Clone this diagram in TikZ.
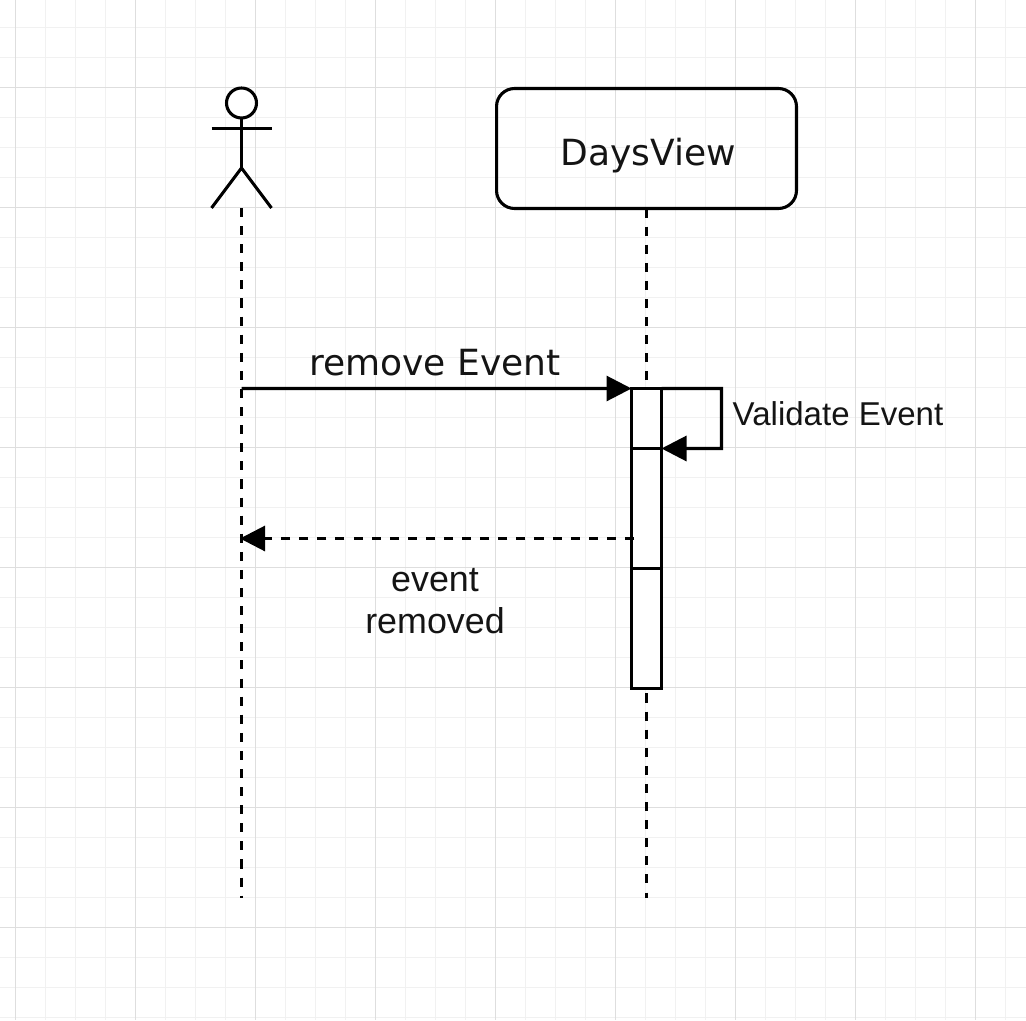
\documentclass[tikz,border=0pt]{standalone}
\usepackage{fontspec}
\usetikzlibrary{arrows.meta,positioning}
\setmainfont{Liberation Sans}
\newfontfamily\labelFont{DejaVu Sans}
\definecolor{colMinor}{RGB}{241, 241, 241}
\definecolor{colMajor}{RGB}{222, 222, 222}
\definecolor{darkText}{RGB}{20, 20, 20}

\begin{document}
\begin{tikzpicture}[x=0.02cm, y=-0.02cm, >={Triangle[length=0.5cm, width=0.5cm]}]

  \useasboundingbox (0, 0) rectangle (1026, 1020);

  % Helper styles for the sequence parts
  \tikzset{
    stroke/.style={black, line width=1.75pt},
    lifeline/.style={stroke, dash pattern=on 5.15pt off 5.15pt},
    activation/.style={stroke, rectangle, fill=white, inner sep=0pt, outer sep=0pt,
      minimum width=0.6cm},
    bigText/.style={font=\labelFont\fontsize{20.5}{24}\selectfont, text=darkText},
    smallText/.style={font=\fontsize{18.8}{23.5}\selectfont, text=darkText, align=center},
    returnText/.style={font=\fontsize{20.4}{23.5}\selectfont, text=darkText, align=center}
  }

  % Background grid: 30 px cells, heavier every 120 px
  \foreach \gx in {15.5, 45.5, ..., 1005.5}
    \draw[colMinor, line width=1.1pt] (\gx, 0) -- (\gx, 1020);
  \foreach \gy in {27.5, 57.5, ..., 1017.5}
    \draw[colMinor, line width=1.1pt] (0, \gy) -- (1026, \gy);
  \foreach \gx in {15.5, 135.5, ..., 975.5}
    \draw[colMajor, line width=1.1pt] (\gx, 0) -- (\gx, 1020);
  \foreach \gy in {87.5, 207.5, ..., 927.5}
    \draw[colMajor, line width=1.1pt] (0, \gy) -- (1026, \gy);

  % Actor figure
  \node[stroke, draw, circle, inner sep=0pt, outer sep=0pt, minimum size=0.6cm] (actorHead) at (241.5, 103) {};
  \coordinate (actorArmL) at (211.5, 128.5);
  \coordinate (actorArmR) at (271.5, 128.5);
  \coordinate (actorHip)  at (241.5, 168);
  \coordinate (actorFootL) at (211.5, 208);
  \coordinate (actorFootR) at (271.5, 208);
  \coordinate (actorBase) at (241.5, 208);
  \draw[stroke] (actorHead.south) -- (actorHip);
  \draw[stroke] (actorArmL) -- (actorArmR);
  \draw[stroke] (actorFootL) -- (actorHip) -- (actorFootR);

  % DaysView box
  \node[stroke, draw, rectangle, rounded corners=0.36cm, outer sep=0pt, minimum width=6cm, minimum height=2.4cm]
    (daysBox) at (646.5, 148.5) {};
  \node[bigText] (daysLabel) at (648, 155.5) {DaysView};

  % Activation bar, three stacked sections
  \node[activation, draw, minimum height=1.2cm] (activeA) at (646.5, 418.5) {};
  \node[activation, draw, minimum height=2.4cm, below=0pt of activeA] (activeB) {};
  \node[activation, draw, minimum height=2.4cm, below=0pt of activeB] (activeC) {};

  % Lifelines
  \coordinate (actorEnd) at (241.5, 898);
  \coordinate (daysEnd)  at (646.5, 898);
  \draw[lifeline] (actorBase) -- (actorEnd);
  \draw[lifeline] (daysBox.south) -- (activeA.north);
  \draw[lifeline, dash phase=7.45pt] (activeC.south) -- (daysEnd);

  % Messages
  \coordinate (removeStart) at (241.5, 388.5);
  \coordinate (selfCorner)  at (721.5, 388.5);
  \coordinate (selfBend)    at (721.5, 448.5);
  \coordinate (returnStart) at (634, 538.5);
  \coordinate (returnEnd)   at (240, 538.5);
  \draw[stroke, ->] (removeStart) -- (activeA.north west);
  \draw[stroke, ->] (activeA.north east) -- (selfCorner) -- (selfBend) -- (activeA.south east);
  \draw[lifeline, ->] (returnStart) -- (returnEnd);

  % Message labels
  \node[bigText] (removeLabel) at (435, 363) {remove Event};
  \node[smallText] (validateLabel) at (838, 414) {Validate Event};
  \node[returnText] (returnLabel) at (435, 601) {event\\removed};

\end{tikzpicture}
\end{document}
